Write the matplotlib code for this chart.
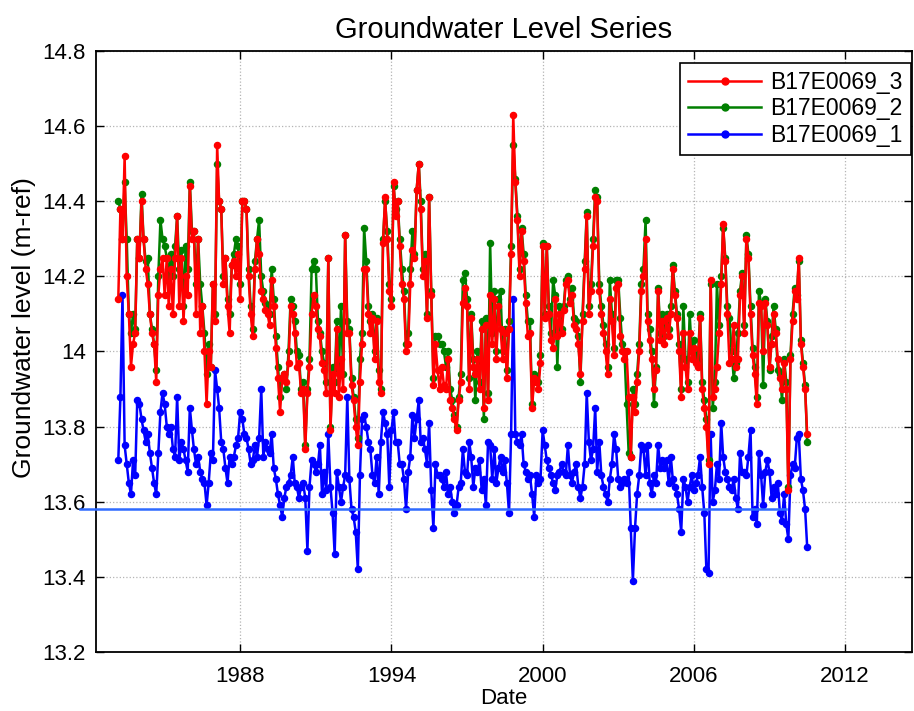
import numpy as np
import pandas as pd
import matplotlib
matplotlib.use("Agg")
import matplotlib.pyplot as plt
import matplotlib.dates as mdates

plt.rcParams["font.family"] = ["Liberation Sans", "DejaVu Sans"]

# monthly readings, Mar 1983 .. Jul 2010
dates = pd.date_range("1983-03-01", "2010-07-01", freq="MS")

well_3 = [
    14.14, 14.38, 14.30, 14.52, 14.20, 14.10, 13.96, 14.02, 14.05, 14.30,
    14.25, 14.40, 14.30, 14.22, 14.18, 14.10, 14.05, 14.02, 13.92, 14.15, 14.22, 14.25,
    14.15, 14.25, 14.12, 14.22, 14.10, 14.25, 14.36, 14.12, 14.25, 14.08, 14.20, 14.15,
    14.44, 14.30, 14.32, 14.10, 14.30, 14.05, 14.12, 14.00, 13.86, 14.00, 13.96, 14.18,
    14.08, 14.55, 14.40, 14.38, 14.18, 14.25, 14.12, 14.05, 14.23, 14.24, 14.20, 14.26,
    14.14, 14.40, 14.40, 14.38, 14.20, 14.10, 14.04, 14.22, 14.30, 14.26, 14.16, 14.14,
    14.11, 14.10, 14.07, 14.19, 14.12, 14.01, 13.93, 13.84, 13.93, 13.94, 13.92, 13.97,
    14.12, 14.10, 14.05, 13.96, 13.97, 13.89, 13.90, 13.74, 13.89, 13.96, 14.10, 14.15,
    14.12, 14.06, 14.04, 13.97, 13.95, 13.89, 14.25, 13.79, 13.94, 13.89, 14.06, 13.88,
    13.98, 13.90, 14.31, 14.05, 14.05, 13.91, 13.87, 13.80, 13.75, 13.92, 14.02, 14.22,
    14.22, 14.10, 14.05, 14.09, 13.98, 14.08, 13.92, 13.89, 14.29, 14.41, 14.30, 14.16,
    14.12, 14.45, 14.36, 14.40, 14.28, 14.18, 14.14, 14.00, 14.02, 14.18, 14.27, 14.25,
    14.43, 14.50, 14.38, 14.20, 14.24, 14.09, 14.41, 14.15, 13.91, 14.02, 13.95, 13.90,
    13.96, 13.91, 13.90, 13.98, 13.87, 13.85, 13.82, 13.79, 13.87, 13.92, 14.13, 14.17,
    14.12, 13.90, 14.09, 13.96, 13.94, 13.98, 13.90, 14.06, 13.85, 14.07, 13.87, 14.15,
    14.02, 14.14, 13.98, 14.12, 14.06, 13.98, 14.05, 13.93, 14.06, 14.26, 14.63, 14.45,
    14.35, 14.20, 14.32, 14.24, 14.13, 14.04, 14.05, 13.85, 13.93, 13.92, 13.90, 13.97,
    14.28, 14.09, 14.28, 14.10, 14.03, 14.01, 14.14, 14.04, 14.10, 14.05, 14.11, 14.18,
    14.19, 14.13, 14.15, 14.07, 14.06, 14.02, 13.94, 14.08, 14.22, 14.36, 14.10, 14.16,
    14.28, 14.41, 14.40, 14.16, 14.10, 14.05, 14.00, 13.94, 14.14, 14.08, 13.99, 14.17,
    14.18, 14.04, 14.00, 13.98, 14.00, 13.88, 13.72, 13.88, 13.84, 13.92, 14.00, 14.16,
    14.20, 14.30, 14.08, 14.03, 13.98, 13.90, 13.95, 14.16, 14.03, 14.08, 14.02, 14.09,
    14.04, 14.10, 14.22, 14.15, 14.09, 14.00, 13.88, 14.05, 13.96, 13.90, 14.05, 13.98,
    14.01, 13.97, 13.96, 14.09, 13.90, 13.85, 13.80, 13.70, 14.19, 13.88, 13.90, 13.96,
    14.05, 14.18, 14.34, 14.24, 14.10, 13.97, 13.98, 14.07, 13.96, 13.98, 14.15, 14.20,
    14.05, 14.30, 14.25, 14.10, 13.99, 13.94, 13.86, 14.13, 14.12, 14.00, 14.13, 14.07,
    13.96, 14.02, 14.10, 14.05, 13.98, 13.93, 13.90, 13.97, 13.90, 13.63, 13.98, 14.08,
    14.16, 14.14, 14.25, 14.02, 13.96, 13.90, 13.78,
]

well_2 = [
    14.40, 14.38, 14.30, 14.45, 14.30, 14.10, 14.05, 14.10, 14.06, 14.30,
    14.25, 14.42, 14.30, 14.24, 14.25, 14.10, 14.06, 14.02, 13.95, 14.20, 14.35, 14.30,
    14.28, 14.25, 14.20, 14.26, 14.20, 14.28, 14.36, 14.22, 14.27, 14.12, 14.28, 14.22,
    14.45, 14.32, 14.32, 14.18, 14.30, 14.18, 14.12, 14.05, 13.94, 14.02, 13.96, 14.18,
    14.10, 14.50, 14.40, 14.38, 14.20, 14.25, 14.14, 14.10, 14.23, 14.26, 14.30, 14.28,
    14.18, 14.40, 14.40, 14.38, 14.22, 14.12, 14.06, 14.24, 14.30, 14.35, 14.20, 14.16,
    14.13, 14.12, 14.10, 14.22, 14.14, 14.04, 13.96, 13.88, 13.93, 13.94, 13.90, 14.00,
    14.14, 14.12, 14.08, 14.00, 13.99, 13.90, 13.92, 13.75, 13.90, 13.98, 14.22, 14.24,
    14.22, 14.08, 14.05, 14.00, 13.97, 13.92, 14.25, 13.80, 13.96, 13.92, 14.08, 13.95,
    14.12, 13.94, 14.31, 14.08, 14.06, 13.93, 13.88, 13.82, 13.77, 13.98, 14.05, 14.33,
    14.24, 14.12, 14.08, 14.10, 14.00, 14.09, 13.95, 13.90, 14.30, 14.40, 14.32, 14.18,
    14.14, 14.44, 14.38, 14.40, 14.30, 14.22, 14.16, 14.02, 14.05, 14.22, 14.32, 14.26,
    14.43, 14.50, 14.40, 14.22, 14.26, 14.10, 14.41, 14.16, 13.93, 14.04, 14.04, 14.02,
    14.02, 14.00, 13.96, 14.00, 13.90, 13.87, 13.83, 13.80, 13.88, 13.94, 14.19, 14.21,
    14.14, 13.93, 14.10, 13.98, 13.87, 14.00, 13.92, 14.08, 13.82, 14.09, 13.89, 14.29,
    14.05, 14.16, 14.00, 14.14, 14.16, 14.00, 14.06, 13.95, 14.08, 14.28, 14.55, 14.46,
    14.36, 14.22, 14.33, 14.26, 14.15, 14.08, 14.08, 13.86, 13.94, 13.93, 13.92, 13.99,
    14.29, 14.10, 14.28, 14.12, 14.05, 14.19, 14.15, 13.96, 14.12, 14.06, 14.12, 14.19,
    14.20, 14.14, 14.17, 14.09, 14.08, 14.04, 13.92, 14.10, 14.24, 14.37, 14.12, 14.18,
    14.30, 14.43, 14.41, 14.18, 14.12, 14.07, 14.02, 13.96, 14.19, 14.10, 14.01, 14.19,
    14.19, 14.09, 14.02, 14.00, 13.86, 13.73, 13.72, 13.90, 13.86, 13.94, 14.02, 14.18,
    14.22, 14.35, 14.10, 14.06, 14.00, 13.86, 13.96, 14.17, 14.05, 14.10, 14.04, 14.10,
    14.06, 14.12, 14.23, 14.16, 14.10, 14.02, 13.90, 14.12, 13.98, 13.92, 14.10, 14.00,
    14.03, 13.99, 13.98, 14.10, 13.92, 13.87, 13.82, 13.71, 14.18, 13.85, 13.92, 14.18,
    14.07, 14.20, 14.33, 14.25, 14.12, 14.09, 14.00, 13.93, 13.97, 14.05, 14.16, 14.21,
    14.07, 14.31, 14.26, 14.12, 14.01, 13.96, 13.88, 14.16, 14.13, 13.91, 14.14, 14.08,
    13.95, 14.04, 14.12, 14.06, 13.95, 13.94, 13.87, 13.98, 13.92, 13.64, 13.99, 14.10,
    14.17, 14.15, 14.24, 14.03, 13.97, 13.91, 13.76,
]

well_1 = [
    13.71, 13.88, 14.15, 13.75, 13.70, 13.65, 13.62, 13.71, 13.67, 13.87,
    13.86, 13.82, 13.79, 13.76, 13.78, 13.73, 13.69, 13.65, 13.62, 13.73, 13.84, 13.89,
    13.86, 13.80, 13.78, 13.80, 13.74, 13.72, 13.88, 13.71, 13.76, 13.74, 13.71, 13.68,
    13.85, 13.79, 13.74, 13.70, 13.72, 13.68, 13.66, 13.65, 13.59, 13.65, 13.73, 13.71,
    13.95, 13.90, 13.85, 13.76, 13.74, 13.69, 13.65, 13.72, 13.70, 13.72, 13.75, 13.77,
    13.84, 13.82, 13.78, 13.77, 13.74, 13.70, 13.71, 13.75, 13.72, 13.77, 13.90, 13.72,
    13.76, 13.74, 13.73, 13.78, 13.69, 13.66, 13.62, 13.59, 13.56, 13.61, 13.64, 13.65,
    13.67, 13.72, 13.65, 13.64, 13.61, 13.64, 13.65, 13.61, 13.47, 13.64, 13.71, 13.70,
    13.68, 13.70, 13.75, 13.62, 13.68, 13.63, 13.78, 13.64, 13.57, 13.46, 13.68, 13.64,
    13.60, 13.64, 13.67, 13.88, 13.66, 13.58, 13.56, 13.52, 13.42, 13.67, 13.82, 13.83,
    13.80, 13.76, 13.74, 13.67, 13.65, 13.72, 13.62, 13.76, 13.84, 13.81, 13.78, 13.64,
    13.79, 13.84, 13.76, 13.76, 13.70, 13.70, 13.66, 13.58, 13.68, 13.72, 13.83, 13.77,
    13.82, 13.87, 13.76, 13.77, 13.74, 13.70, 13.81, 13.63, 13.53, 13.70, 13.67, 13.67,
    13.66, 13.64, 13.68, 13.62, 13.64, 13.60, 13.57, 13.59, 13.64, 13.65, 13.74, 13.68,
    13.67, 13.76, 13.72, 13.64, 13.69, 13.68, 13.71, 13.63, 13.66, 13.59, 13.76, 13.75,
    13.66, 13.74, 13.65, 13.69, 13.72, 13.68, 13.71, 13.65, 13.57, 13.78, 14.14, 13.78,
    13.76, 13.75, 13.78, 13.70, 13.68, 13.66, 13.67, 13.62, 13.56, 13.67, 13.65, 13.66,
    13.79, 13.75, 13.71, 13.69, 13.67, 13.65, 13.63, 13.67, 13.68, 13.70, 13.68, 13.67,
    13.75, 13.67, 13.65, 13.68, 13.70, 13.64, 13.61, 13.64, 13.70, 13.89, 13.76, 13.71,
    13.74, 13.85, 13.68, 13.76, 13.67, 13.64, 13.62, 13.60, 13.66, 13.70, 13.78, 13.74,
    13.66, 13.64, 13.65, 13.66, 13.65, 13.68, 13.53, 13.39, 13.53, 13.62, 13.67, 13.75,
    13.74, 13.67, 13.75, 13.65, 13.62, 13.67, 13.65, 13.75, 13.69, 13.71, 13.69, 13.71,
    13.65, 13.72, 13.66, 13.64, 13.62, 13.58, 13.52, 13.66, 13.64, 13.60, 13.64, 13.67,
    13.63, 13.65, 13.67, 13.72, 13.64, 13.57, 13.42, 13.41, 13.78, 13.60, 13.63, 13.70,
    13.66, 13.81, 13.72, 13.68, 13.66, 13.64, 13.63, 13.66, 13.61, 13.58, 13.73, 13.68,
    13.68, 13.67, 13.72, 13.79, 13.56, 13.58, 13.54, 13.73, 13.67, 13.59, 13.68, 13.71,
    13.68, 13.61, 13.64, 13.62, 13.65, 13.57, 13.55, 13.62, 13.54, 13.50, 13.67, 13.70,
    13.69, 13.77, 13.78, 13.66, 13.63, 13.58, 13.48,
]

labels = ["B17E0069_3", "B17E0069_2", "B17E0069_1"]
ref_level = 13.58
ref_span = ["1981-08-20", "2009-09-01"]
year_ticks = [1988, 1994, 2000, 2006, 2012]

fig = plt.figure(figsize=(9.14, 7.11), dpi=100)
ax = fig.add_axes([0.1045, 0.083, 0.8933, 0.8453])

style = dict(marker="o", markersize=4.4, linewidth=1.8)
h1, = ax.plot(dates, well_1, color="#0000ff", zorder=2, **style)
h2, = ax.plot(dates, well_2, color="#007f00", zorder=3, **style)
h3, = ax.plot(dates, well_3, color="#ff0000", zorder=4, **style)
ax.plot(pd.to_datetime(ref_span), [ref_level, ref_level], color="#2f6bff",
        linewidth=1.8, zorder=5, clip_on=False)

ax.set_xlim(pd.Timestamp("1982-04-05"), pd.Timestamp("2014-08-28"))
ax.set_ylim(13.2, 14.8)
ax.set_xticks([pd.Timestamp(f"{y}-01-01") for y in year_ticks])
ax.xaxis.set_major_formatter(mdates.DateFormatter("%Y"))
ax.set_yticks(np.arange(13.2, 14.81, 0.2))
ax.set_yticklabels(["13.2", "13.4", "13.6", "13.8", "14", "14.2", "14.4", "14.6", "14.8"])

ax.grid(True, linestyle=":", color="#b4b4b4", linewidth=0.9)
ax.tick_params(direction="in", top=True, right=True, length=6, width=1, labelsize=16)
ax.tick_params(axis="x", pad=10)
ax.tick_params(axis="y", pad=7)
for sp in ax.spines.values():
    sp.set_linewidth(1.3)

ax.set_title("Groundwater Level Series", fontsize=21, pad=9)
ax.set_xlabel("Date", fontsize=16, labelpad=1)
ax.set_ylabel("Groundwater level (m-ref)", fontsize=19)
ax.yaxis.set_label_coords(-0.073, 0.54)

leg = ax.legend([h3, h2, h1], labels, loc="upper right", fontsize=16.5, numpoints=1,
                bbox_to_anchor=(911 / 914, 1 - 63 / 711), bbox_transform=fig.transFigure,
                handlelength=3.2, fancybox=False, framealpha=1, edgecolor="black",
                borderaxespad=0, labelspacing=0.15, handletextpad=0.4,
                borderpad=0.35)
leg.get_frame().set_linewidth(1.2)
for lh in leg.legend_handles:
    lh.set_markersize(5)

fig.savefig("out.png", dpi=100)
